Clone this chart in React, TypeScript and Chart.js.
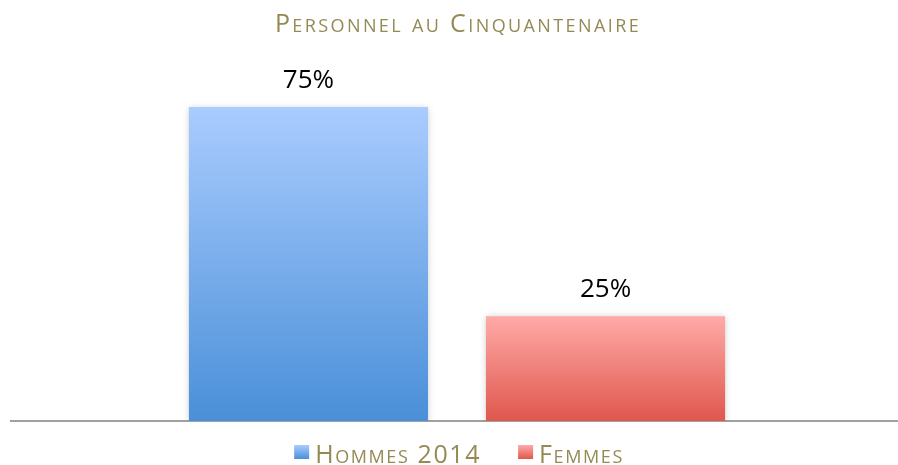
import { useEffect, useRef } from "react";
import { Chart, registerables } from "chart.js";

Chart.register(...registerables);

// ---- Data ----
const categories = ["Personnel"];
const seriesNames = ["Hommes 2014", "Femmes"];
const hommesValues = [75];
const femmesValues = [25];
const valueLabels = ["75%", "25%"];
const titleText = "Personnel au Cinquantenaire";
const yMin = 0;
const yMax = 80;

// ---- Styles ----
const FONT = "'Open Sans', 'Noto Sans', sans-serif";
const titleColor = "#948A54";
const gradientStops = [
  ["#AACCFF", "#4A8FD8"],
  ["#FFAAA7", "#DF574D"],
];
const solidColors = ["#7AAEEC", "#F08078"];

function makeGradient(ctx: CanvasRenderingContext2D, top: number, bottom: number, i: number) {
  const g = ctx.createLinearGradient(0, top, 0, bottom);
  g.addColorStop(0, gradientStops[i][0]);
  g.addColorStop(1, gradientStops[i][1]);
  return g;
}

function barFill(i: number) {
  return (c: any) => {
    const chart = c.chart;
    const y = chart.scales?.y;
    if (!chart.chartArea || !y || c.parsed == null) return solidColors[i];
    const top = y.getPixelForValue(c.parsed.y);
    const bottom = y.getPixelForValue(0);
    return makeGradient(chart.ctx, top, bottom, i);
  };
}

const overlayPlugin = {
  id: "overlay",
  beforeDatasetsDraw(chart: any) {
    const ctx = chart.ctx;
    ctx.save();
    ctx.shadowColor = "rgba(0,0,0,0.22)";
    ctx.shadowBlur = 7;
    ctx.shadowOffsetX = 0;
    ctx.shadowOffsetY = 1;
  },
  afterDatasetsDraw(chart: any) {
    const ctx = chart.ctx;
    ctx.restore();
    // value labels
    ctx.save();
    ctx.font = `26px ${FONT}`;
    ctx.fillStyle = "#000000";
    ctx.textAlign = "center";
    ctx.textBaseline = "alphabetic";
    chart.data.datasets.forEach((_ds: any, di: number) => {
      const meta = chart.getDatasetMeta(di);
      meta.data.forEach((el: any) => {
        ctx.fillText(valueLabels[di], el.x, el.y - 19);
      });
    });
    ctx.restore();
  },
  afterDraw(chart: any) {
    const ctx = chart.ctx;
    const cx = 457;
    // title
    ctx.save();
    ctx.font = `small-caps 25px ${FONT}`;
    (ctx as any).letterSpacing = "2.4px";
    ctx.fillStyle = titleColor;
    ctx.textAlign = "center";
    ctx.textBaseline = "alphabetic";
    ctx.fillText(titleText, cx + 1, 32);
    ctx.restore();

    // legend
    ctx.save();
    ctx.font = `small-caps 25px ${FONT}`;
    (ctx as any).letterSpacing = "1.6px";
    ctx.textBaseline = "alphabetic";
    ctx.textAlign = "left";
    const box = 15;
    const gap = 6;
    const itemGap = 37;
    const widths = seriesNames.map((n) => ctx.measureText(n).width);
    const total = widths.reduce((a, w) => a + box + gap + w, 0) + itemGap * (seriesNames.length - 1);
    let x = cx + 2 - total / 2;
    const baseY = 463;
    seriesNames.forEach((name, i) => {
      const bt = 445;
      ctx.fillStyle = makeGradient(ctx, bt, bt + 14, i);
      ctx.fillRect(x, bt, box, 14);
      ctx.fillStyle = titleColor;
      ctx.fillText(name, x + box + gap, baseY);
      x += box + gap + widths[i] + itemGap;
    });
    ctx.restore();
  },
};

export default function App() {
  const canvasRef = useRef<HTMLCanvasElement | null>(null);

  useEffect(() => {
    document.body.style.margin = "0";
    const canvas = canvasRef.current;
    if (!canvas) return;
    const chart = new Chart(canvas, {
      type: "bar",
      data: {
        labels: categories,
        datasets: [
          {
            label: seriesNames[0],
            data: hommesValues,
            backgroundColor: barFill(0),
            borderWidth: 0,
          },
          {
            label: seriesNames[1],
            data: femmesValues,
            backgroundColor: barFill(1),
            borderWidth: 0,
          },
        ],
      },
      options: {
        animation: false,
        responsive: true,
        maintainAspectRatio: false,
        layout: { padding: { top: 86, bottom: 44, left: 11, right: 0 } },
        plugins: {
          legend: { display: false },
          title: { display: false },
          tooltip: { enabled: false },
        },
        datasets: {
          bar: { categoryPercentage: 0.666, barPercentage: 0.805 },
        },
        scales: {
          x: {
            display: true,
            grid: { display: false, drawTicks: false },
            ticks: { display: false },
            border: { display: true, color: "#A0A0A0", width: 2 },
          },
          y: {
            display: false,
            min: yMin,
            max: yMax,
          },
        },
      },
      plugins: [overlayPlugin],
    });
    return () => chart.destroy();
  }, []);

  return (
    <div style={{ width: 898, height: 465, overflow: "hidden" }}>
      <div style={{ position: "relative", width: 903, height: 465 }}>
        <canvas ref={canvasRef} />
      </div>
    </div>
  );
}
